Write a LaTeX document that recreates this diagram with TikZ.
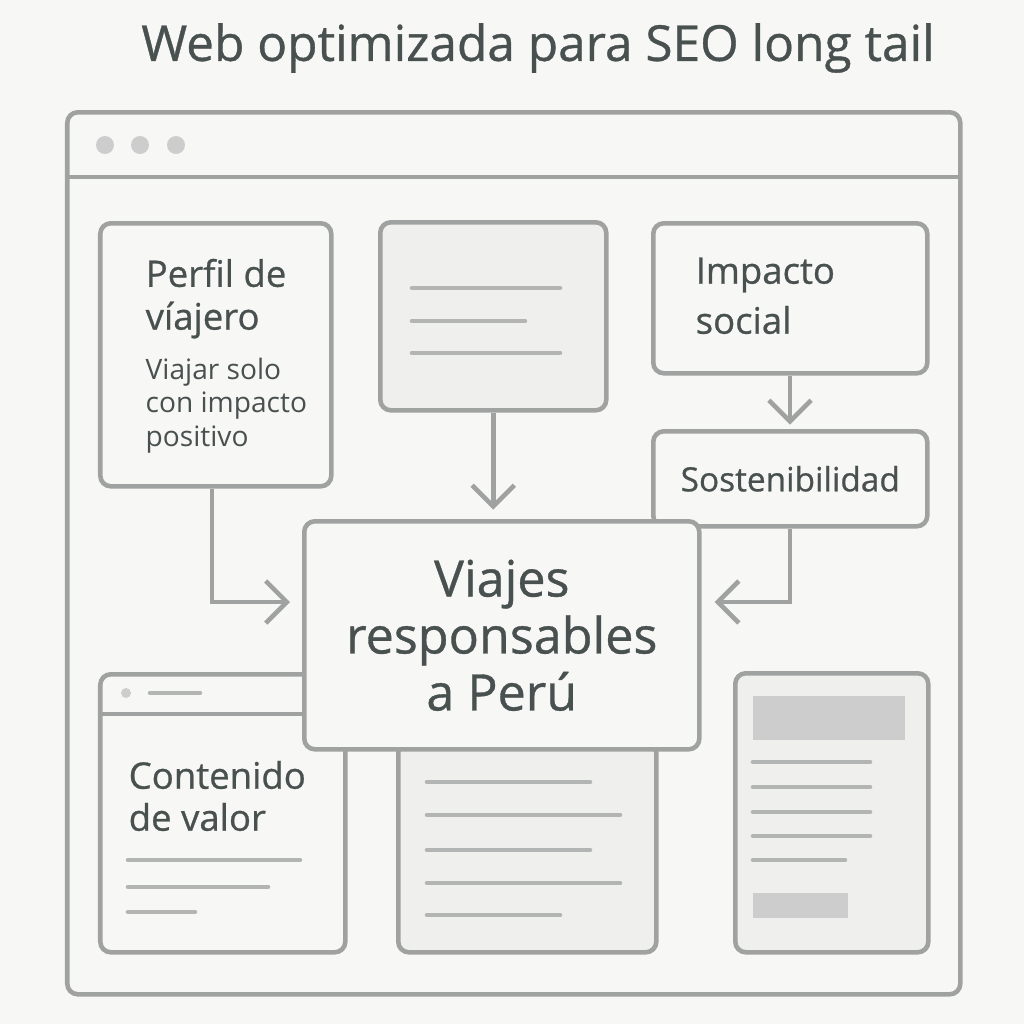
\documentclass[tikz,border=0pt]{standalone}
\usepackage{fontspec}
\setmainfont{Open Sans}
\newfontfamily\medfont{Open Sans}[FakeBold=0.7]
\usetikzlibrary{positioning,arrows.meta}
\definecolor{bgpaper}{RGB}{247,247,245}
\definecolor{lgray}{RGB}{160,162,162}
\definecolor{dtext}{RGB}{72,80,80}
\definecolor{pfill}{RGB}{239,239,238}
\definecolor{bfill}{RGB}{205,205,205}
\tikzset{
  panel/.style={draw=lgray, line width=1.3pt, rounded corners=3pt, fill=bgpaper, anchor=north west, inner sep=0pt},
  graypanel/.style={panel, fill=pfill},
  bar/.style={draw=lgray!80, line width=1.3pt, line cap=round},
  label/.style={text=dtext, anchor=west, inner sep=0pt, font=\fontsize{10.4}{12}\selectfont\medfont},
  small/.style={label, font=\fontsize{8}{10}\selectfont},
  flow/.style={draw=lgray, line width=1.3pt, -{Straight Barb[length=6pt,width=12pt]}}
}
\begin{document}
\begin{tikzpicture}
  \fill[bgpaper] (0,0) rectangle (10.24,-10.24);
  \useasboundingbox (0,0) rectangle (10.24,-10.24);

  % title
  \node[text=dtext, font=\fontsize{14.1}{16}\selectfont\medfont] (title) at (5.38,-0.48) {Web optimizada para SEO long tail};

  % browser window
  \node[panel, minimum width=8.93cm, minimum height=8.82cm] (window) at (0.65,-1.10) {};
  \draw[lgray, line width=1.3pt] (0.65,-1.77) -- (9.58,-1.77);
  \foreach \x in {1.05,1.40,1.76}
    \fill[bfill] (\x,-1.45) circle (0.09);

  % bottom panels
  \node[panel, minimum width=2.45cm, minimum height=2.78cm] (contenido) at (0.98,-6.72) {};
  \draw[lgray, line width=1.3pt] (0.98,-7.14) -- (3.43,-7.14);
  \fill[bfill] (1.26,-6.93) circle (0.05);
  \draw[bar] (1.50,-6.93) -- (2.00,-6.93);
  \node[label] (contenido-text) at (1.28,-7.75) {Contenido};
  \node[label] (contenido-text2) at (1.28,-8.17) {de valor};
  \draw[bar] (1.28,-8.60) -- (3.00,-8.60);
  \draw[bar] (1.28,-8.87) -- (2.68,-8.87);
  \draw[bar] (1.28,-9.12) -- (1.95,-9.12);

  \node[graypanel, minimum width=2.58cm, minimum height=2.10cm] (articulo) at (3.96,-7.40) {};
  \foreach \y/\e in {7.82/5.90,8.15/6.20,8.50/5.90,8.83/6.20,9.15/5.60}
    \draw[bar] (4.27,-\y) -- (\e,-\y);

  \node[graypanel, minimum width=1.93cm, minimum height=2.79cm] (lateral) at (7.33,-6.71) {};
  \fill[bfill] (7.53,-6.96) rectangle (9.05,-7.40);
  \foreach \y/\e in {7.62/8.70,7.87/8.70,8.12/8.70,8.36/8.70,8.60/8.45}
    \draw[bar] (7.53,-\y) -- (\e,-\y);
  \fill[bfill] (7.53,-8.93) rectangle (8.48,-9.18);

  % top panels
  \node[panel, minimum width=2.31cm, minimum height=2.63cm] (perfil) at (0.98,-2.21) {};
  \node[label] (perfil-text) at (1.45,-2.73) {Perfil de};
  \node[label] (perfil-text2) at (1.45,-3.20) {víajero};
  \node[small] (perfil-sub) at (1.45,-3.72) {Viajar solo};
  \node[small] (perfil-sub2) at (1.45,-4.06) {con impacto};
  \node[small] (perfil-sub3) at (1.45,-4.40) {positivo};

  \node[graypanel, minimum width=2.26cm, minimum height=1.88cm] (resumen) at (3.78,-2.20) {};
  \draw[bar] (4.12,-2.88) -- (5.60,-2.88);
  \draw[bar] (4.12,-3.21) -- (5.25,-3.21);
  \draw[bar] (4.12,-3.53) -- (5.60,-3.53);

  \node[panel, minimum width=2.74cm, minimum height=1.50cm] (impacto) at (6.51,-2.21) {};
  \node[label] (impacto-text) at (6.95,-2.75) {Impacto};
  \node[label] (impacto-text2) at (6.95,-3.20) {social};

  \node[panel, minimum width=2.74cm, minimum height=0.95cm] (sosten) at (6.51,-4.29) {};
  \node[label, anchor=center, font=\fontsize{9.5}{12}\selectfont\medfont] (sosten-text) at (sosten.center) {Sostenibilidad};

  % central node
  \node[panel, minimum width=3.95cm, minimum height=2.28cm] (viajes) at (3.02,-5.19) {};
  \node[text=dtext, align=center, font=\fontsize{14.3}{16.2}\selectfont\medfont] (viajes-text) at (viajes.center) {Viajes\\responsables\\a Perú};

  % connectors
  \draw[flow] (impacto.south -| 7.90,0) -- ++(0,-0.49);
  \draw[flow] (resumen.south) -- ++(0,-0.97);
  \draw[flow] (perfil.south -| 2.12,0) |- ([xshift=-0.12cm]viajes.west |- 0,-6.02);
  \draw[flow] (sosten.south -| 7.90,0) |- ([xshift=0.13cm]viajes.east |- 0,-6.02);
\end{tikzpicture}
\end{document}
